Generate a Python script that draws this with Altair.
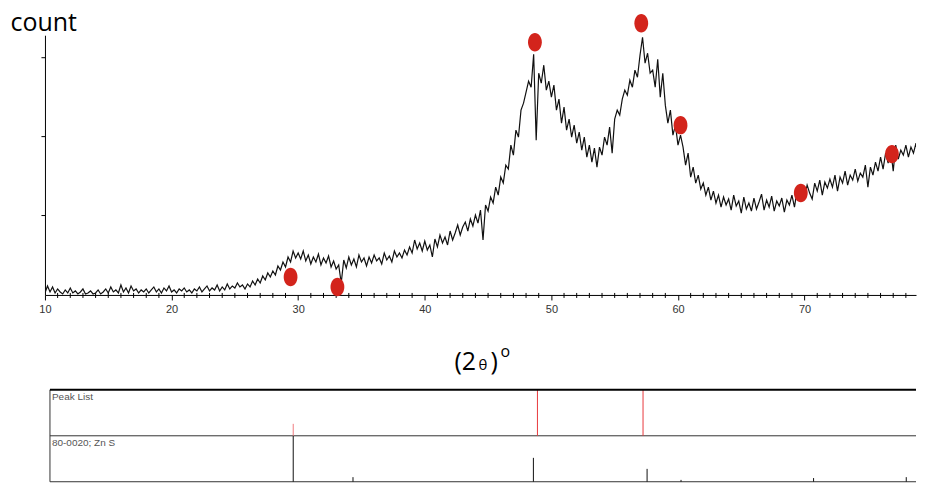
import altair as alt
import pandas as pd

# ---- data ----
theta_start = 10.0
theta_step = 0.2
counts = [
    2, 9, 3, 8, 2, 6, 3, 1, 5, 2,
    7, 2, 4, 1, 3, 6, 1, 2, 4, 1,
    2, 5, 1, 3, 6, 2, 8, 3, 5, 2,
    10, 3, 7, 2, 9, 4, 6, 2, 5, 3,
    6, 2, 5, 8, 3, 6, 2, 7, 4, 9,
    3, 5, 2, 6, 4, 7, 3, 5, 2, 6,
    4, 8, 3, 6, 9, 4, 7, 5, 10, 4,
    8, 5, 11, 6, 9, 7, 12, 8, 10, 6,
    11, 8, 14, 10, 16, 12, 19, 15, 22, 18,
    24, 20, 29, 25, 33, 28, 38, 33, 44, 37,
    42, 36, 44, 34, 40, 31, 38, 33, 41, 30,
    37, 32, 39, 28, 34, 26, 30, 12, 35, 27,
    38, 30, 36, 28, 40, 33, 37, 29, 38, 32,
    40, 34, 37, 31, 42, 35, 39, 33, 44, 38,
    42, 37, 45, 40, 48, 42, 55, 46, 52, 44,
    54, 45, 50, 38, 56, 48, 60, 52, 58, 50,
    64, 55, 62, 70, 60, 68, 73, 64, 76, 69,
    80, 72, 85, 55, 90, 84, 98, 92, 108, 100,
    118, 112, 130, 126, 150, 140, 165, 158, 185, 192,
    203, 214, 208, 241, 155, 222, 212, 230, 205, 214,
    198, 210, 185, 196, 172, 188, 165, 176, 158, 170,
    152, 163, 145, 158, 138, 150, 133, 147, 128, 148,
    140, 158, 150, 168, 142, 176, 185, 180, 196, 205,
    200, 215, 208, 225, 218, 240, 258, 232, 242, 222,
    225, 208, 236, 198, 222, 190, 172, 185, 160, 170,
    150, 160, 148, 130, 142, 118, 128, 112, 120, 106,
    112, 100, 108, 95, 104, 92, 100, 88, 98, 90,
    96, 85, 100, 89, 94, 82, 98, 86, 92, 84,
    97, 86, 93, 101, 85, 95, 88, 99, 84, 94,
    89, 97, 83, 95, 90, 100, 88, 104, 96, 108,
    98, 110, 102, 96, 112, 104, 115, 100, 113, 107,
    116, 108, 120, 104, 118, 112, 124, 110, 120, 115,
    126, 114, 122, 118, 130, 108, 128, 120, 133, 124,
    138, 126, 142, 132, 146, 124, 150, 136, 145, 140,
    150, 138, 148, 142, 152, 136, 140, 145,
]
theta = [round(theta_start + i * theta_step, 1) for i in range(len(counts))]

peak_theta = [29.4, 33.1, 48.7, 57.1, 60.2, 69.7, 76.9]
peak_height = [18, 8, 253, 272, 170, 102, 141]

x_major = [10, 20, 30, 40, 50, 60, 70]
x_minor = [v for v in range(11, 79) if v % 10]
y_ticks = [80, 159, 238]

peak_list_theta = [29.61, 48.90, 57.24]
peak_list_int = [26, 100, 100]
ref_theta = [29.61, 34.33, 48.58, 57.56, 60.24, 70.71, 78.03]
ref_int = [100, 10, 52, 28, 4, 8, 10]

label_peak_list = "Peak List"
label_ref = "80-0020; Zn S"

# ---- tables ----
scan = pd.DataFrame({"theta": theta, "count": counts})
peaks = pd.DataFrame({"theta": peak_theta, "count": peak_height})
minor = pd.DataFrame({"theta": x_minor})
pl = pd.DataFrame({"theta": peak_list_theta, "lo": [100] * len(peak_list_theta),
                   "hi": [100 + v for v in peak_list_int]})
pl_main = pl[pl["hi"] >= 200]
pl_weak = pl[pl["hi"] < 200]
ref = pd.DataFrame({"theta": ref_theta, "lo": [0] * len(ref_theta), "hi": ref_int})
one = pd.DataFrame({"k": [0]})

W, H = 872, 260
XMAX = 78.8
xscale = alt.Scale(domain=[10, XMAX], nice=False, zero=False)
yscale = alt.Scale(domain=[0, 260], nice=False, zero=True)

xaxis = alt.Axis(values=x_major, format="d", title=None, tickSize=5, tickColor="black",
                 domainColor="black", labelFont="Liberation Sans", labelFontSize=11,
                 labelColor="#333", labelPadding=4, grid=False, labelFlush=False)
yaxis = alt.Axis(values=y_ticks, labels=False, tickSize=4, grid=False, domainColor="black",
                 tickColor="black", title="count", titleAngle=0, titleAlign="left",
                 titleBaseline="alphabetic", titleX=-35, titleY=-5, titleFont="Open Sans",
                 titleFontSize=25, titleFontWeight="normal", titleColor="black")

line = alt.Chart(scan).mark_line(color="#111", strokeWidth=1.2, clip=True).encode(
    x=alt.X("theta:Q", scale=xscale, axis=xaxis),
    y=alt.Y("count:Q", scale=yscale, axis=yaxis),
)

minor_ticks = alt.Chart(minor).mark_rule(color="black", strokeWidth=1).encode(
    x=alt.X("theta:Q", scale=xscale),
    y=alt.value(H - 2), y2=alt.value(H + 3),
)

ellipse = "M -0.75 0 A 0.75 1 0 1 0 0.75 0 A 0.75 1 0 1 0 -0.75 0 Z"
markers = alt.Chart(peaks).mark_point(shape=ellipse, filled=True, size=340,
                                      color="#d3241c", opacity=1).encode(
    x=alt.X("theta:Q", scale=xscale),
    y=alt.Y("count:Q", scale=yscale),
)

def txt(s, x, y, size):
    return alt.Chart(one).mark_text(text=s, align="left", baseline="alphabetic",
                                    font="Open Sans", fontSize=size, color="black").encode(
        x=alt.value(x), y=alt.value(y))

title_parts = ["(2", "\u03b8", ")", "o"]
t1 = txt(title_parts[0], 410, 335, 25)
t2 = txt(title_parts[1], 434, 335, 15)
t3 = txt(title_parts[2], 446, 335, 25)
t4 = txt(title_parts[3], 456, 322, 16)

top = alt.layer(line, minor_ticks, markers, t1, t2, t3, t4).properties(width=W, height=H)

# ---- bottom stick panel ----
bx = alt.Scale(domain=[10, XMAX], nice=False, zero=False)
by = alt.Scale(domain=[0, 200], nice=False)
BH = 92

def hline(y, sw, color):
    return alt.Chart(one).mark_rule(color=color, strokeWidth=sw).encode(
        x=alt.value(5), x2=alt.value(W), y=alt.value(y))

frame_top = hline(0, 2, "black")
frame_mid = hline(BH / 2, 1, "#333")
frame_bot = hline(BH, 1, "#333")
frame_left = alt.Chart(one).mark_rule(color="#333", strokeWidth=1).encode(
    x=alt.value(5), y=alt.value(0), y2=alt.value(BH))

sticks_pl = alt.Chart(pl_main).mark_rule(color="#e8393c", strokeWidth=1).encode(
    x=alt.X("theta:Q", scale=bx, axis=None),
    y=alt.Y("lo:Q", scale=by, axis=None), y2="hi:Q")
sticks_pl_weak = alt.Chart(pl_weak).mark_rule(color="#f07a80", strokeWidth=1).encode(
    x=alt.X("theta:Q", scale=bx, axis=None),
    y=alt.Y("lo:Q", scale=by, axis=None), y2="hi:Q")
sticks_ref = alt.Chart(ref).mark_rule(color="#111", strokeWidth=1).encode(
    x=alt.X("theta:Q", scale=bx, axis=None),
    y=alt.Y("lo:Q", scale=by, axis=None), y2="hi:Q")

def label(s, y):
    return alt.Chart(one).mark_text(text=s, align="left", baseline="top", font="Liberation Sans",
                                    fontSize=10, color="#555").encode(
        x=alt.value(7), y=alt.value(y))

bottom = alt.layer(frame_mid, frame_bot, frame_left, sticks_ref, sticks_pl, sticks_pl_weak,
                   frame_top, label(label_peak_list, 2), label(label_ref, BH / 2 + 2)
                   ).properties(width=W, height=BH)

chart = alt.vconcat(top, bottom, spacing=14).properties(
    padding={"left": 2, "top": 2, "right": 0, "bottom": 0}
).configure_view(stroke=None).configure_concat(spacing=14)

chart.save("out.html", embed_options={"renderer": "svg", "actions": False})
